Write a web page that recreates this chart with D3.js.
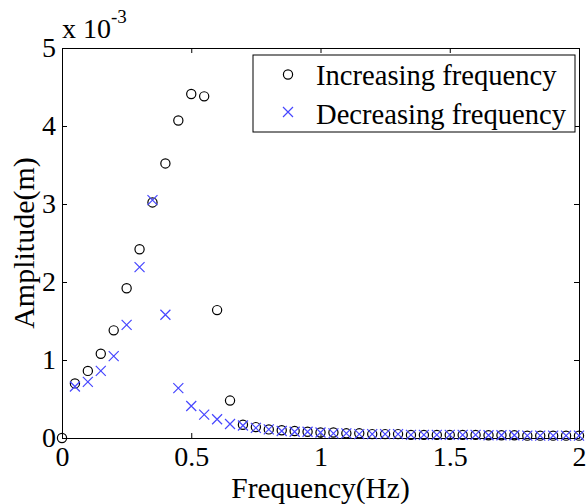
<!DOCTYPE html>
<html>
<head>
<meta charset="utf-8">
<script src="https://cdn.jsdelivr.net/npm/d3@7"></script>
<style>
  body { margin: 0; background: #fff; }
  svg text { font-family: "Liberation Serif", "DejaVu Serif", "Times New Roman", serif; fill: #000; }
</style>
</head>
<body>
<div id="chart"></div>
<script>
// amplitudes are in units of 1e-3 m
const freqInc = [0, 0.05, 0.1, 0.15, 0.2, 0.25, 0.3, 0.35, 0.4, 0.45, 0.5, 0.55, 0.6, 0.65,
  0.7, 0.75, 0.8, 0.85, 0.9, 0.95, 1.0, 1.05, 1.1, 1.15, 1.2, 1.25, 1.3, 1.35, 1.4, 1.45,
  1.5, 1.55, 1.6, 1.65, 1.7, 1.75, 1.8, 1.85, 1.9, 1.95, 2.0];
const ampInc = [0, 0.70, 0.86, 1.08, 1.38, 1.92, 2.42, 3.02, 3.52, 4.07, 4.41, 4.38, 1.64, 0.48,
  0.17, 0.14, 0.11, 0.10, 0.09, 0.08, 0.07, 0.07, 0.06, 0.06, 0.05, 0.05, 0.05, 0.04, 0.04, 0.04,
  0.04, 0.04, 0.04, 0.035, 0.035, 0.035, 0.03, 0.03, 0.03, 0.03, 0.03];

const freqDec = [0.05, 0.1, 0.15, 0.2, 0.25, 0.3, 0.35, 0.4, 0.45, 0.5, 0.55, 0.6, 0.65,
  0.7, 0.75, 0.8, 0.85, 0.9, 0.95, 1.0, 1.05, 1.1, 1.15, 1.2, 1.25, 1.3, 1.35, 1.4, 1.45,
  1.5, 1.55, 1.6, 1.65, 1.7, 1.75, 1.8, 1.85, 1.9, 1.95, 2.0];
const ampDec = [0.66, 0.72, 0.86, 1.05, 1.45, 2.19, 3.05, 1.58, 0.64, 0.41, 0.30, 0.24, 0.18,
  0.16, 0.13, 0.11, 0.09, 0.08, 0.08, 0.07, 0.06, 0.06, 0.05, 0.05, 0.05, 0.05, 0.04, 0.04, 0.04,
  0.04, 0.04, 0.04, 0.035, 0.035, 0.035, 0.03, 0.03, 0.03, 0.03, 0.03];

const xTicks = [0, 0.5, 1, 1.5, 2];
const yTicks = [0, 1, 2, 3, 4, 5];
const legendLabels = ["Increasing frequency", "Decreasing frequency"];

const W = 587, H = 504;
const margin = { top: 48, right: 8, bottom: 66, left: 62 };
const width = W - margin.left - margin.right;
const height = H - margin.top - margin.bottom;
const blue = "#4646ff";
const serif = "Liberation Serif, DejaVu Serif, serif";

const svg = d3.select("#chart").append("svg")
  .attr("width", W)
  .attr("height", H)
  .attr("font-family", serif);

const g = svg.append("g")
  .attr("transform", `translate(${margin.left},${margin.top})`);

const x = d3.scaleLinear().domain([0, 2]).range([0, width]);
const y = d3.scaleLinear().domain([0, 5]).range([height, 0]);

const fmt = (d) => (d === 0 ? "0" : String(d));

function styleAxis(sel) {
  sel.attr("font-family", serif);
  sel.select(".domain").attr("stroke", "#000").attr("stroke-width", 1);
  sel.selectAll(".tick line").attr("stroke", "#000");
  sel.selectAll("text").style("font-size", "28px").attr("fill", "#000");
}

g.append("g")
  .attr("transform", `translate(0,${height})`)
  .call(d3.axisBottom(x).tickValues(xTicks).tickFormat(fmt)
    .tickSizeInner(-5).tickSizeOuter(0).tickPadding(8))
  .call(styleAxis);

g.append("g")
  .call(d3.axisLeft(y).tickValues(yTicks).tickFormat(fmt)
    .tickSizeInner(-5).tickSizeOuter(0).tickPadding(6))
  .call(styleAxis);

g.append("g")
  .call(d3.axisTop(x).tickValues(xTicks).tickFormat("")
    .tickSizeInner(-5).tickSizeOuter(0))
  .call(styleAxis);

g.append("g")
  .attr("transform", `translate(${width},0)`)
  .call(d3.axisRight(y).tickValues(yTicks).tickFormat("")
    .tickSizeInner(-5).tickSizeOuter(0))
  .call(styleAxis);

// exponent label
const expo = svg.append("text")
  .attr("x", 62)
  .attr("y", 38)
  .style("font-size", "28px");
expo.append("tspan").text("x 10");
expo.append("tspan").attr("dy", -15).style("font-size", "19px").text("-3");

// axis labels
svg.append("text")
  .attr("x", margin.left + width / 2)
  .attr("y", 498)
  .attr("text-anchor", "middle")
  .style("font-size", "29.5px")
  .text("Frequency(Hz)");

svg.append("text")
  .attr("transform", `translate(34,${margin.top + height / 2}) rotate(-90)`)
  .attr("text-anchor", "middle")
  .style("font-size", "30px")
  .text("Amplitude(m)");

const incData = freqInc.map((f, i) => ({ f, a: ampInc[i] }));
const decData = freqDec.map((f, i) => ({ f, a: ampDec[i] }));

const xMark = (cx, cy, r) =>
  `M${cx - r},${cy - r}L${cx + r},${cy + r}M${cx - r},${cy + r}L${cx + r},${cy - r}`;

g.selectAll(".inc")
  .data(incData)
  .enter()
  .append("circle")
  .attr("class", "inc")
  .attr("cx", (d) => x(d.f))
  .attr("cy", (d) => y(d.a))
  .attr("r", 4.6)
  .attr("fill", "none")
  .attr("stroke", "#000")
  .attr("stroke-width", 1.2);

g.selectAll(".dec")
  .data(decData)
  .enter()
  .append("path")
  .attr("class", "dec")
  .attr("d", (d) => xMark(x(d.f), y(d.a), 5))
  .attr("fill", "none")
  .attr("stroke", blue)
  .attr("stroke-width", 1.2);

// legend
const lg = svg.append("g").attr("transform", "translate(253,55)");
lg.append("rect")
  .attr("width", 322)
  .attr("height", 77)
  .attr("fill", "#fff")
  .attr("stroke", "#000")
  .attr("stroke-width", 1);
lg.append("circle")
  .attr("cx", 35).attr("cy", 19.5).attr("r", 4.6)
  .attr("fill", "none").attr("stroke", "#000").attr("stroke-width", 1.2);
lg.append("path")
  .attr("d", xMark(35, 57, 5))
  .attr("fill", "none").attr("stroke", blue).attr("stroke-width", 1.2);
lg.selectAll(".lt")
  .data(legendLabels)
  .enter()
  .append("text")
  .attr("class", "lt")
  .attr("x", 63)
  .attr("y", (d, i) => 30 + i * 38.5)
  .style("font-size", "28.6px")
  .text((d) => d);
</script>
</body>
</html>
